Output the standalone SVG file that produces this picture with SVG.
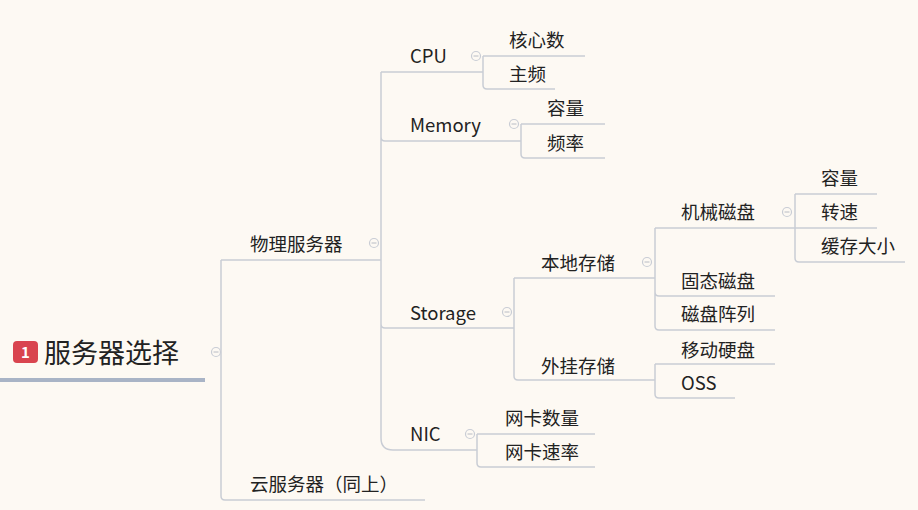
<svg xmlns="http://www.w3.org/2000/svg" width="918" height="510" viewBox="0 0 918 510">
<style>
text{font-family:"Noto Sans CJK SC","Noto Sans",sans-serif;fill:#222;font-size:18.5px}
.l{fill:none;stroke:#c9cdd5;stroke-width:1.5}
.c{fill:#fdf9f3;stroke:#c9cdd5;stroke-width:1.2}
.m{stroke:#b8bcc4;stroke-width:1}
</style>
<rect width="918" height="510" fill="#fdf9f3"/>
<g id="connectors">
<path class="l" d="M221 260V496q0 4 4 4H425M221 260H381"/>
<path class="l" d="M381 72V438q0 12 12 12H477M381 72H483M381 137q0 4 4 4H521M381 324q0 4 4 4H514"/>
<path class="l" d="M483 56H585M483 56V85q0 4 4 4H555"/>
<path class="l" d="M521 124H605M521 124V154q0 4 4 4H605"/>
<path class="l" d="M514 278H655M514 278V376q0 4 4 4H655"/>
<path class="l" d="M655 228H795M655 228V326q0 4 4 4H775M655 292q0 4 4 4H775"/>
<path class="l" d="M795 194H877M795 194V258q0 4 4 4H905M795 228H877"/>
<path class="l" d="M655 364H775M655 364V394q0 4 4 4H735"/>
<path class="l" d="M477 434H595M477 434V463q0 4 4 4H595"/>
</g>
<g id="root">
<rect x="0" y="378" width="205" height="4" fill="#a9b4c6"/>
<rect x="13" y="341" width="25" height="22" rx="4" fill="#d9444f"/>
<text x="25.5" y="358" text-anchor="middle" style="fill:#fff;font-size:15px;font-weight:bold">1</text>
<text x="44" y="363" style="font-size:27px">服务器选择</text>
<circle class="c" cx="216" cy="352" r="4.5"/><path class="m" d="M213.5 352h5"/>
</g>
<g id="n-phys"><text x="250" y="251">物理服务器</text><circle class="c" cx="374" cy="243" r="4.5"/><path class="m" d="M371.5 243h5"/></g>
<g id="n-cloud"><text x="250" y="491">云服务器（同上）</text></g>
<g id="n-cpu"><text x="410" y="63">CPU</text><circle class="c" cx="476" cy="56" r="4.5"/><path class="m" d="M473.5 56h5"/></g>
<g id="n-cores"><text x="509" y="47">核心数</text></g>
<g id="n-freq"><text x="509" y="81">主频</text></g>
<g id="n-mem"><text x="410" y="132">Memory</text><circle class="c" cx="514" cy="124" r="4.5"/><path class="m" d="M511.5 124h5"/></g>
<g id="n-cap"><text x="547" y="115">容量</text></g>
<g id="n-mfreq"><text x="547" y="150">频率</text></g>
<g id="n-storage"><text x="410" y="320">Storage</text><circle class="c" cx="507" cy="312" r="4.5"/><path class="m" d="M504.5 312h5"/></g>
<g id="n-local"><text x="541" y="270">本地存储</text><circle class="c" cx="647" cy="262" r="4.5"/><path class="m" d="M644.5 262h5"/></g>
<g id="n-hdd"><text x="681" y="219">机械磁盘</text><circle class="c" cx="787" cy="212" r="4.5"/><path class="m" d="M784.5 212h5"/></g>
<g id="n-hcap"><text x="821" y="185">容量</text></g>
<g id="n-rpm"><text x="821" y="219">转速</text></g>
<g id="n-cache"><text x="821" y="253">缓存大小</text></g>
<g id="n-ssd"><text x="681" y="288">固态磁盘</text></g>
<g id="n-raid"><text x="681" y="321">磁盘阵列</text></g>
<g id="n-ext"><text x="541" y="373">外挂存储</text></g>
<g id="n-mobile"><text x="681" y="357">移动硬盘</text></g>
<g id="n-oss"><text x="681" y="390">OSS</text></g>
<g id="n-nic"><text x="410" y="441">NIC</text><circle class="c" cx="470" cy="434" r="4.5"/><path class="m" d="M467.5 434h5"/></g>
<g id="n-niccount"><text x="505" y="425">网卡数量</text></g>
<g id="n-nicspeed"><text x="505" y="459">网卡速率</text></g>
</svg>
